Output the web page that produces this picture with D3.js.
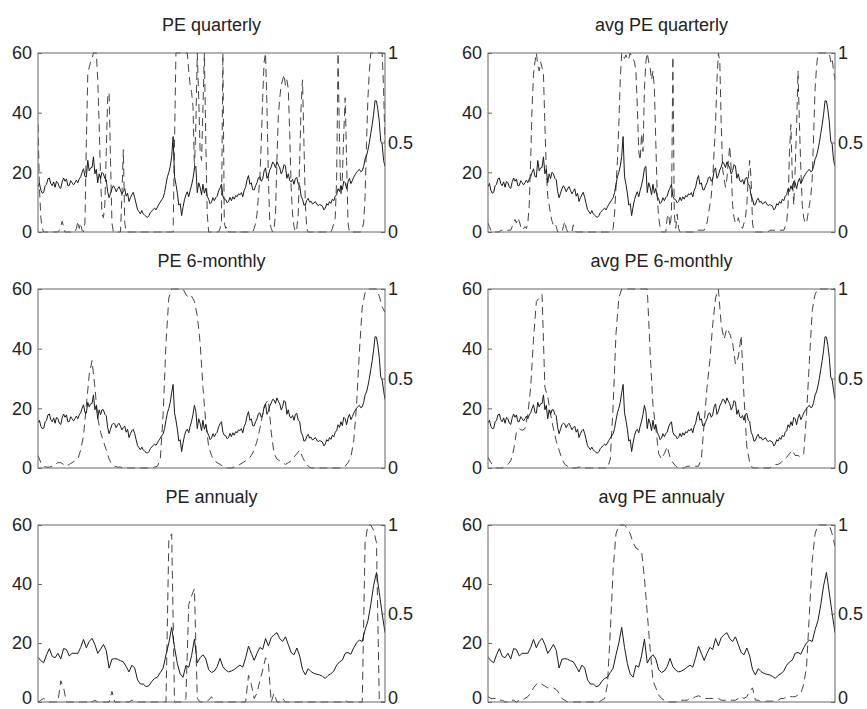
<!DOCTYPE html>
<html>
<head>
<meta charset="utf-8">
<script src="https://cdn.jsdelivr.net/npm/d3@7"></script>
<style>
  body { margin: 0; background: #fff; }
  svg { display: block; }
  text { font-family: "Liberation Sans", Arial, sans-serif; fill: #222; }
</style>
</head>
<body>
<svg id="chart" width="867" height="709"></svg>
<script>

// PE ratio, quarterly panels (half-yearly readings)
const peQuarterly = [
  15.2, 16.3, 14.0, 13.0, 13.3, 15.5, 16.0, 17.8, 18.1, 16.2,
  15.5, 16.8, 15.0, 17.0, 16.5, 15.0, 14.6, 16.8, 18.1, 17.0,
  17.8, 15.5, 15.6, 17.2, 16.5, 15.8, 16.5, 17.4, 16.5, 17.8,
  18.5, 20.0, 21.2, 18.6, 18.4, 24.0, 20.5, 21.5, 21.6, 25.2,
  19.5, 21.0, 16.5, 19.5, 17.9, 20.0, 19.5, 18.0, 17.5, 13.5,
  11.5, 13.0, 14.5, 15.5, 14.7, 13.5, 14.5, 15.2, 14.0, 12.8,
  13.6, 14.5, 12.0, 13.0, 10.2, 11.5, 12.5, 13.3, 11.5, 9.5,
  7.5, 6.8, 6.1, 7.2, 6.1, 5.6, 5.2, 4.9, 5.5, 6.5,
  7.0, 7.6, 8.0, 7.4, 8.4, 9.3, 10.0, 10.8, 11.5, 13.2,
  16.0, 18.5, 20.0, 22.0, 25.3, 32.0, 18.5, 16.0, 13.0, 9.0,
  9.5, 5.5, 8.4, 10.8, 12.4, 13.5, 11.8, 14.0, 15.7, 18.0,
  21.3, 22.0, 13.2, 16.5, 15.0, 12.5, 16.0, 13.0, 14.6, 12.0,
  11.0, 9.5, 10.0, 11.5, 10.5, 11.5, 12.0, 13.8, 14.8, 16.0,
  12.0, 11.0, 10.8, 9.8, 10.2, 11.6, 10.5, 11.8, 11.0, 12.2,
  11.8, 12.8, 12.5, 13.2, 11.8, 14.0, 15.0, 17.5, 18.9, 16.0,
  16.5, 14.2, 14.1, 15.5, 16.5, 18.2, 18.5, 17.0, 17.8, 20.5,
  21.5, 18.0, 19.0, 20.8, 21.8, 23.5, 22.8, 21.6, 23.5, 22.4,
  21.5, 19.5, 20.5, 22.6, 22.1, 18.0, 19.5, 17.2, 16.8, 17.6,
  16.0, 18.0, 18.3, 16.0, 15.6, 12.0, 11.0, 9.0, 9.2, 10.6,
  11.3, 10.0, 10.3, 9.4, 9.7, 10.2, 9.4, 8.8, 9.2, 9.0,
  8.7, 7.4, 8.0, 9.5, 9.0, 10.2, 9.6, 11.0, 10.5, 12.0,
  12.5, 14.5, 13.6, 15.5, 14.2, 17.0, 16.5, 14.5, 16.8, 18.0,
  16.2, 17.2, 18.4, 19.2, 20.0, 20.6, 21.0, 20.2, 20.5, 22.0,
  24.5, 25.5, 27.5, 30.0, 33.0, 36.0, 39.5, 44.0, 43.9, 41.0,
  37.0, 30.5, 29.5, 24.0, 22.0
];

// PE ratio, 6-monthly panels
const pe6m = [
  15.2, 16.0, 14.0, 13.2, 13.3, 15.5, 16.0, 17.8, 18.1, 16.2,
  15.5, 16.8, 15.0, 17.0, 16.5, 15.0, 14.6, 16.8, 18.1, 17.0,
  17.8, 15.5, 15.6, 17.2, 16.5, 15.8, 16.5, 17.4, 16.5, 17.8,
  18.5, 20.0, 21.2, 18.6, 18.4, 22.0, 20.5, 21.5, 21.6, 24.5,
  19.5, 21.0, 16.5, 19.5, 17.9, 19.5, 19.5, 18.0, 17.5, 13.5,
  11.5, 13.0, 14.5, 15.0, 14.7, 13.5, 14.5, 15.0, 14.0, 12.8,
  13.6, 14.0, 12.0, 13.0, 10.2, 11.5, 12.5, 13.0, 11.5, 9.5,
  7.5, 6.8, 6.1, 7.0, 6.1, 5.6, 5.2, 5.0, 5.5, 6.5,
  7.0, 7.6, 8.0, 7.6, 8.4, 9.3, 10.0, 10.8, 11.5, 13.2,
  16.0, 18.5, 20.0, 22.0, 25.3, 28.0, 18.5, 16.0, 13.0, 9.0,
  9.5, 5.5, 8.4, 10.8, 12.4, 13.0, 11.8, 14.0, 15.7, 18.0,
  21.0, 19.0, 13.2, 16.5, 15.0, 12.5, 16.0, 13.0, 14.6, 12.0,
  11.0, 9.5, 10.0, 11.5, 10.5, 11.5, 12.0, 13.8, 14.8, 15.5,
  12.0, 11.0, 10.8, 9.8, 10.2, 11.6, 10.5, 11.8, 11.0, 12.2,
  11.8, 12.8, 12.5, 13.2, 11.8, 14.0, 15.0, 17.5, 18.9, 16.0,
  16.5, 14.2, 14.1, 15.5, 16.5, 18.2, 18.5, 17.0, 17.8, 20.5,
  21.5, 18.0, 19.0, 20.8, 21.8, 23.0, 22.8, 21.6, 23.5, 22.4,
  21.5, 19.5, 20.5, 22.6, 22.1, 18.0, 19.5, 17.2, 16.8, 17.6,
  16.0, 18.0, 18.3, 16.0, 15.6, 12.0, 11.0, 9.0, 9.2, 10.6,
  11.3, 10.0, 10.3, 9.4, 9.7, 10.2, 9.4, 8.8, 9.2, 9.0,
  8.7, 7.4, 8.0, 9.5, 9.0, 10.2, 9.6, 11.0, 10.5, 12.0,
  12.5, 14.5, 13.6, 15.5, 14.2, 17.0, 16.5, 14.5, 16.8, 18.0,
  16.2, 17.2, 18.4, 19.2, 20.0, 20.6, 21.0, 20.2, 20.5, 22.0,
  24.5, 25.5, 27.5, 30.0, 33.0, 36.0, 39.5, 44.0, 43.9, 41.0,
  37.0, 30.5, 29.5, 26.0, 23.0
];

// PE ratio, yearly readings (bottom row)
const peAnnual = [
  15.2, 14.0, 13.3, 16.0, 18.1, 15.5, 15.0, 16.5, 14.6, 18.1,
  17.8, 15.6, 16.5, 16.5, 16.5, 18.5, 21.2, 18.4, 20.5, 21.6,
  19.5, 16.5, 17.9, 19.5, 17.5, 11.5, 14.5, 14.7, 14.5, 14.0,
  13.6, 12.0, 10.2, 12.5, 11.5, 7.5, 6.1, 6.1, 5.2, 5.5,
  7.0, 8.0, 8.4, 10.0, 11.5, 16.0, 20.0, 25.3, 18.5, 13.0,
  9.5, 8.4, 12.4, 11.8, 15.7, 21.3, 13.2, 15.0, 16.0, 14.6,
  11.0, 10.0, 10.5, 12.0, 14.8, 12.0, 10.8, 10.2, 10.5, 11.0,
  11.8, 12.5, 11.8, 15.0, 18.9, 16.5, 14.1, 16.5, 18.5, 17.8,
  21.5, 19.0, 21.8, 22.8, 23.5, 21.5, 20.5, 22.1, 19.5, 16.8,
  16.0, 18.3, 15.6, 11.0, 9.2, 11.3, 10.3, 9.7, 9.4, 9.2,
  8.7, 8.0, 9.0, 9.6, 10.5, 12.5, 13.6, 14.2, 16.5, 16.8,
  16.2, 18.4, 20.0, 21.0, 20.5, 24.5, 27.5, 33.0, 39.5, 43.9,
  37.0, 30.0, 23.5
];

// regime probabilities (dashed), one series per panel
const probQuarterly = [
  0.6, 0.25, 0.08, 0.02, 0, 0, 0, 0, 0, 0,
  0, 0, 0, 0, 0, 0.01, 0.03, 0.06, 0.03, 0,
  0, 0, 0, 0, 0, 0, 0, 0.02, 0.06, 0.02,
  0.05, 0.01, 0, 0.05, 0.5, 0.88, 0.92, 0.95, 0.97, 1,
  1, 1, 0.85, 0.6, 0.3, 0.1, 0.08, 0.15, 0.45, 0.75,
  0.78, 0.4, 0.05, 0, 0, 0, 0, 0, 0, 0.2,
  0.46, 0.05, 0, 0, 0, 0, 0, 0, 0, 0,
  0, 0, 0, 0, 0, 0, 0, 0, 0, 0,
  0, 0, 0, 0, 0, 0, 0, 0, 0, 0,
  0, 0, 0, 0, 0, 0, 0.5, 1, 1, 1,
  1, 1, 1, 1, 1, 1, 0.9, 0.82, 0.78, 0.7,
  0.35, 0.6, 1, 0.75, 0.45, 0.4, 0.7, 1, 0.5, 0.1,
  0, 0, 0, 0, 0, 0, 0, 0, 0.02, 0.05,
  1, 0.05, 0.02, 0.03, 0, 0, 0, 0, 0, 0,
  0, 0, 0, 0, 0, 0, 0, 0, 0, 0,
  0, 0, 0.02, 0.05, 0.1, 0.2, 0.3, 0.5, 0.75, 0.95,
  1, 0.7, 0.3, 0.05, 0.02, 0, 0.02, 0.1, 0.4, 0.65,
  0.75, 0.82, 0.85, 0.88, 0.82, 0.85, 0.8, 0.55, 0.25, 0.1,
  0.03, 0, 0.02, 0.1, 0.4, 0.7, 0.85, 0.5, 0.15, 0.02,
  0, 0, 0, 0, 0, 0, 0, 0, 0, 0,
  0, 0, 0, 0, 0, 0, 0, 0.02, 0.05, 0.08,
  0.3, 1, 0.5, 0.2, 0.3, 0.55, 0.75, 0.4, 0.05, 0,
  0, 0, 0, 0, 0, 0, 0, 0, 0.02, 0.05,
  0.2, 0.5, 0.75, 0.9, 1, 1, 1, 1, 1, 1,
  1, 1, 1, 0.8, 0.5
];

const probAvgQuarterly = [
  0.05, 0.03, 0.01, 0, 0, 0, 0, 0, 0, 0.01,
  0.01, 0.01, 0.01, 0.01, 0.01, 0.01, 0.01, 0.03, 0.05, 0.07,
  0.05, 0.08, 0.06, 0.03, 0.01, 0.02, 0.03, 0.02, 0.05, 0.15,
  0.4, 0.7, 0.88, 0.95, 1, 0.93, 0.9, 0.95, 0.92, 0.88,
  0.6, 0.35, 0.2, 0.15, 0.1, 0.06, 0.04, 0.05, 0.03, 0,
  0, 0, 0, 0.03, 0.06, 0.02, 0, 0, 0, 0,
  0.04, 0.01, 0, 0, 0, 0, 0, 0, 0, 0,
  0, 0, 0, 0, 0, 0, 0, 0, 0, 0,
  0, 0, 0, 0, 0, 0, 0, 0, 0.02, 0.1,
  0.25, 0.4, 0.6, 0.85, 1, 0.98, 0.97, 0.99, 0.96, 0.97,
  1, 0.98, 0.97, 0.95, 0.9, 0.7, 0.45, 0.4, 0.55, 0.45,
  0.8, 0.95, 1, 0.95, 0.92, 0.85, 0.9, 0.8, 0.5, 0.2,
  0.08, 0.03, 0, 0, 0, 0, 0.08, 0.1, 0.03, 0.1,
  0.98, 0.1, 0.02, 0.1, 0.02, 0, 0, 0, 0, 0,
  0, 0, 0, 0, 0, 0, 0, 0.01, 0.01, 0.01,
  0.01, 0.01, 0.01, 0.03, 0.05, 0.1, 0.15, 0.2, 0.3, 0.45,
  0.6, 0.85, 1, 0.95, 0.6, 0.35, 0.3, 0.25, 0.3, 0.4,
  0.48, 0.35, 0.15, 0.08, 0.05, 0.05, 0.08, 0.05, 0.03, 0.02,
  0.05, 0.08, 0.15, 0.3, 0.4, 0.3, 0.05, 0, 0, 0,
  0, 0, 0, 0, 0, 0, 0, 0, 0.01, 0.01,
  0.01, 0.01, 0.01, 0.01, 0.01, 0.01, 0.01, 0.01, 0.01, 0.03,
  0.05, 0.15, 0.45, 0.6, 0.3, 0.15, 0.35, 0.6, 0.9, 0.6,
  0.35, 0.15, 0.08, 0.05, 0.05, 0.1, 0.15, 0.2, 0.3, 0.55,
  0.8, 0.92, 1, 1, 1, 1, 1, 1, 1, 1,
  1, 0.95, 0.97, 0.9, 0.85
];

const prob6m = [
  0.07, 0.03, 0.01, 0.005, 0.005, 0.01, 0.02, 0.03, 0.03, 0.02,
  0.01, 0.02, 0.03, 0.04, 0.05, 0.1, 0.18, 0.35, 0.52, 0.6,
  0.45, 0.28, 0.2, 0.15, 0.1, 0.05, 0.02, 0.01, 0.005, 0.005,
  0, 0, 0, 0, 0, 0, 0, 0, 0, 0,
  0, 0.005, 0.01, 0.05, 0.3, 0.7, 0.95, 1, 1, 1,
  1, 1, 0.97, 0.95, 0.96, 0.93, 0.85, 0.7, 0.45, 0.25,
  0.12, 0.07, 0.04, 0.03, 0.02, 0.01, 0, 0, 0, 0.005,
  0.01, 0.02, 0.03, 0.04, 0.05, 0.07, 0.1, 0.15, 0.22, 0.3,
  0.36, 0.38, 0.2, 0.08, 0.05, 0.04, 0.03, 0.02, 0.03, 0.04,
  0.06, 0.08, 0.1, 0.06, 0.03, 0.01, 0, 0, 0, 0,
  0, 0, 0, 0, 0, 0, 0, 0, 0.01, 0.03,
  0.06, 0.15, 0.35, 0.65, 0.9, 0.98, 1, 1, 1, 1,
  0.96, 0.9, 0.87
];

const probAvg6m = [
  0.06, 0.03, 0.01, 0, 0, 0, 0.01, 0.02, 0.04, 0.1,
  0.2, 0.22, 0.21, 0.22, 0.3, 0.45, 0.72, 0.93, 0.95, 0.97,
  0.45, 0.4, 0.3, 0.22, 0.15, 0.1, 0.05, 0.02, 0.01, 0,
  0, 0, 0.005, 0.005, 0, 0, 0, 0, 0, 0,
  0, 0, 0, 0.05, 0.35, 0.75, 0.95, 1, 1, 1,
  1, 1, 1, 1, 1, 1, 1, 0.65, 0.35, 0.22,
  0.08, 0.05, 0.08, 0.12, 0.06, 0.03, 0.01, 0, 0, 0,
  0.01, 0.01, 0.01, 0.01, 0.01, 0.05, 0.25, 0.45, 0.6, 0.8,
  0.95, 1, 0.8, 0.72, 0.78, 0.75, 0.7, 0.58, 0.62, 0.74,
  0.4, 0.12, 0.03, 0, 0, 0, 0, 0, 0, 0,
  0.01, 0.02, 0.02, 0.03, 0.05, 0.06, 0.08, 0.1, 0.07, 0.07,
  0.06, 0.08, 0.3, 0.6, 0.88, 0.97, 1, 1, 1, 1,
  1, 1, 1
];

const probAnnual = [
  0, 0.01, 0.02, 0.01, 0, 0, 0, 0, 0.12, 0.08,
  0, 0, 0, 0, 0, 0, 0, 0, 0.01, 0,
  0.01, 0, 0, 0, 0, 0, 0.06, 0, 0, 0,
  0, 0, 0, 0.01, 0, 0, 0, 0, 0, 0,
  0, 0, 0, 0, 0, 0, 0.92, 0.95, 0, 0,
  0, 0, 0.02, 0.55, 0.6, 0.64, 0.02, 0, 0, 0,
  0.01, 0.03, 0, 0, 0, 0, 0, 0, 0, 0,
  0, 0, 0, 0, 0.15, 0.1, 0.02, 0.05, 0.12, 0.18,
  0.25, 0.22, 0, 0.05, 0, 0, 0.02, 0, 0, 0,
  0, 0, 0, 0, 0, 0, 0, 0, 0, 0,
  0, 0, 0, 0, 0, 0, 0, 0, 0.01, 0,
  0, 0, 0, 0, 0, 0.9, 1, 1, 0.97, 0.9,
  0, 0, 0
];

const probAvgAnnual = [
  0.03, 0.02, 0.02, 0.02, 0.01, 0.01, 0, 0, 0.01, 0.01,
  0, 0.01, 0.01, 0.02, 0.03, 0.05, 0.08, 0.1, 0.11, 0.1,
  0.09, 0.08, 0.08, 0.08, 0.07, 0.05, 0.02, 0.01, 0, 0,
  0, 0, 0, 0, 0, 0, 0, 0, 0, 0,
  0.01, 0.02, 0.1, 0.4, 0.75, 0.95, 1, 1, 1, 0.98,
  0.95, 0.9, 0.87, 0.86, 0.85, 0.7, 0.5, 0.3, 0.12, 0.08,
  0.04, 0.02, 0.01, 0, 0, 0, 0, 0.01, 0.01, 0.01,
  0.01, 0.02, 0.02, 0.03, 0.035, 0.03, 0.02, 0.02, 0.02, 0.02,
  0.02, 0.02, 0.01, 0.01, 0.01, 0.01, 0.01, 0.01, 0.02, 0.03,
  0.02, 0.03, 0.06, 0.08, 0.01, 0.01, 0, 0, 0.005, 0.005,
  0.005, 0.005, 0.01, 0.02, 0.02, 0.03, 0.03, 0.03, 0.03, 0.04,
  0.05, 0.1, 0.2, 0.5, 0.8, 0.95, 1, 1, 1, 1,
  1, 0.95, 0.88
];

const titles = [
  "PE quarterly", "avg PE quarterly",
  "PE 6-monthly", "avg PE 6-monthly",
  "PE annualy", "avg PE annualy"
];
const peSeries = [peQuarterly, peQuarterly, pe6m, pe6m, peAnnual, peAnnual];
const probSeries = [probQuarterly, probAvgQuarterly, prob6m, probAvg6m, probAnnual, probAvgAnnual];

const peTicks = [0, 20, 40, 60];
const probTicks = [0, 0.5, 1];

// Layout

const svg = d3.select("#chart");

const p = {
    left: [38, 488],
    top: [53, 289, 525],
    height: [179, 179, 177],
    width: 347,
    fontSize: 18,
    frame: "#666"
};

titles.forEach((title, i) => {

    const col = i % 2;
    const row = Math.floor(i / 2);
    const h = p.height[row];
    const pe = peSeries[i];
    const prob = probSeries[i];

    const g = svg.append("g")
        .attr("transform", `translate(${p.left[col]}, ${p.top[row]})`);

    const xPe = d3.scaleLinear().domain([0, pe.length - 1]).range([0, p.width]);
    const xProb = d3.scaleLinear().domain([0, prob.length - 1]).range([0, p.width]);
    const yPe = d3.scaleLinear().domain([0, 60]).range([h, 0]);
    const yProb = d3.scaleLinear().domain([0, 1]).range([h, 0]);

    g.append("clipPath")
        .attr("id", "clip" + i)
        .append("rect")
        .attr("x", 0).attr("y", -1)
        .attr("width", p.width)
        .attr("height", h + 2);

    // title
    g.append("text")
        .attr("x", p.width / 2)
        .attr("y", -22)
        .attr("text-anchor", "middle")
        .style("font-size", p.fontSize + "px")
        .text(title);

    // dashed probability
    g.append("path")
        .datum(prob)
        .attr("clip-path", `url(#clip${i})`)
        .attr("fill", "none")
        .attr("stroke", "#444")
        .attr("stroke-width", 1)
        .attr("stroke-dasharray", "8,5")
        .attr("d", d3.line().x((d, j) => xProb(j)).y(d => yProb(d)));

    // solid PE
    g.append("path")
        .datum(pe)
        .attr("clip-path", `url(#clip${i})`)
        .attr("fill", "none")
        .attr("stroke", "#1a1a1a")
        .attr("stroke-width", 1)
        .attr("d", d3.line().x((d, j) => xPe(j)).y(d => yPe(d)));

    // axes
    const leftAxis = g.append("g")
        .call(d3.axisLeft(yPe).tickValues(peTicks).tickSizeInner(-4).tickSizeOuter(0).tickPadding(6));

    const rightAxis = g.append("g")
        .attr("transform", `translate(${p.width}, 0)`)
        .call(d3.axisRight(yProb).tickValues(probTicks).tickFormat(d3.format("~g"))
            .tickSizeInner(-4).tickSizeOuter(0).tickPadding(3));

    [leftAxis, rightAxis].forEach(a => {
        a.select(".domain").remove();
        a.selectAll("line").attr("stroke", p.frame);
        a.selectAll("text")
            .attr("fill", "#222")
            .style("font-family", '"Liberation Sans", Arial, sans-serif')
            .style("font-size", p.fontSize + "px");
        // bottom row: keep the zero label inside the page
        if (row === 2) {
            a.selectAll(".tick text").filter(d => d === 0).attr("dy", "0.1em");
        }
    });

    // frame
    g.append("rect")
        .attr("width", p.width)
        .attr("height", h)
        .attr("fill", "none")
        .attr("stroke", p.frame)
        .attr("stroke-width", 1);
});

</script>
</body>
</html>
